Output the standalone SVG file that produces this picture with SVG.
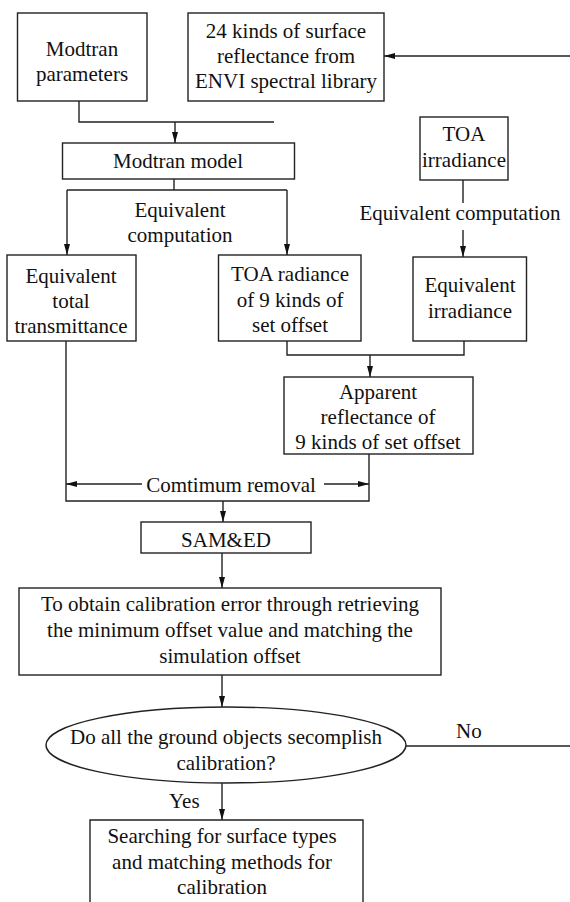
<svg xmlns="http://www.w3.org/2000/svg" width="570" height="902" viewBox="0 0 570 902">
<style>
.box{fill:#fff;stroke:#222;stroke-width:1.4}
.ln{fill:none;stroke:#222;stroke-width:1.4}
.ar{fill:none;stroke:#222;stroke-width:1.4;marker-end:url(#ah)}
text{font-family:"Liberation Serif","Times New Roman",serif;font-size:21px;fill:#111}
.c{text-anchor:middle}
</style>
<defs>
<marker id="ah" markerWidth="12" markerHeight="8" refX="11" refY="4" orient="auto" markerUnits="userSpaceOnUse">
<path d="M0,1 L11,4 L0,7 Z" fill="#111"/>
</marker>
</defs>
<rect width="570" height="902" fill="#fff"/>
<g id="connectors">
<polyline class="ln" points="79,101 79,122 274,122"/>
<line class="ar" x1="175" y1="122" x2="175" y2="143"/>
<line class="ar" x1="570" y1="56" x2="384" y2="56"/>
<polyline class="ln" points="174,179 174,190"/>
<line class="ln" x1="67" y1="190" x2="287" y2="190"/>
<line class="ar" x1="67" y1="190" x2="67" y2="255"/>
<line class="ar" x1="287" y1="190" x2="287" y2="255"/>
<line class="ln" x1="463" y1="180" x2="463" y2="203"/>
<line class="ar" x1="463" y1="230" x2="463" y2="257"/>
<polyline class="ln" points="287,341 287,355 464,355 464,341"/>
<line class="ar" x1="370" y1="355" x2="370" y2="377"/>
<polyline class="ln" points="66,341 66,501 369,501 369,454"/>
<line class="ar" x1="142" y1="484" x2="66" y2="484"/>
<line class="ar" x1="324" y1="484" x2="369" y2="484"/>
<line class="ar" x1="223" y1="501" x2="223" y2="522"/>
<line class="ar" x1="222" y1="553" x2="222" y2="588"/>
<line class="ar" x1="222" y1="675" x2="222" y2="707"/>
<line class="ln" x1="406" y1="746" x2="570" y2="746"/>
<line class="ar" x1="222" y1="783" x2="222" y2="820"/>
<text x="460" y="220" class="c">Equivalent computation</text>
<text x="180" y="217" class="c">Equivalent</text>
<text x="180" y="242" class="c">computation</text>
<text x="231" y="492" class="c">Comtimum removal</text>
<text x="456" y="738">No</text>
<text x="169" y="808">Yes</text>
</g>
<g id="modtran-params">
<rect class="box" x="17.5" y="13" width="129.5" height="88"/>
<text x="82" y="56" class="c">Modtran</text>
<text x="82" y="81" class="c">parameters</text>
</g>
<g id="surface-reflectance">
<rect class="box" x="188" y="13" width="196" height="88"/>
<text x="286" y="38" class="c">24 kinds of surface</text>
<text x="286" y="63" class="c">reflectance from</text>
<text x="286" y="88" class="c">ENVI spectral library</text>
</g>
<g id="modtran-model">
<rect class="box" x="62.5" y="143" width="232" height="36"/>
<text x="178" y="168" class="c">Modtran model</text>
</g>
<g id="toa-irradiance">
<rect class="box" x="420" y="117" width="88" height="63"/>
<text x="464" y="141" class="c">TOA</text>
<text x="464" y="167" class="c">irradiance</text>
</g>
<g id="equiv-transmittance">
<rect class="box" x="7" y="255" width="129" height="86"/>
<text x="71" y="283" class="c">Equivalent</text>
<text x="71" y="308" class="c">total</text>
<text x="71" y="333" class="c">transmittance</text>
</g>
<g id="toa-radiance">
<rect class="box" x="218.5" y="255" width="142.5" height="86"/>
<text x="290" y="281" class="c">TOA radiance</text>
<text x="290" y="307" class="c">of 9 kinds of</text>
<text x="290" y="332" class="c">set offset</text>
</g>
<g id="equiv-irradiance">
<rect class="box" x="413" y="257" width="113.5" height="84"/>
<text x="470" y="292" class="c">Equivalent</text>
<text x="470" y="318" class="c">irradiance</text>
</g>
<g id="apparent-reflectance">
<rect class="box" x="284" y="377" width="189" height="77"/>
<text x="378" y="399" class="c">Apparent</text>
<text x="378" y="424" class="c">reflectance of</text>
<text x="378" y="449" class="c">9 kinds of set offset</text>
</g>
<g id="sam-ed">
<rect class="box" x="141" y="522" width="170" height="31"/>
<text x="226" y="547" class="c">SAM&amp;ED</text>
</g>
<g id="calibration-error">
<rect class="box" x="19" y="588" width="422" height="87"/>
<text x="230" y="611" class="c">To obtain calibration error through retrieving</text>
<text x="230" y="637" class="c">the minimum offset value and matching the</text>
<text x="230" y="663" class="c">simulation offset</text>
</g>
<g id="decision">
<ellipse class="box" cx="226" cy="745" rx="180" ry="38"/>
<text x="226" y="744" class="c">Do all the ground objects secomplish</text>
<text x="226" y="770" class="c">calibration?</text>
</g>
<g id="searching">
<polyline class="box" points="90,905 90,820 363,820 363,905"/>
<text x="222" y="843" class="c">Searching for surface types</text>
<text x="222" y="869" class="c">and matching methods for</text>
<text x="222" y="894" class="c">calibration</text>
</g>
</svg>
